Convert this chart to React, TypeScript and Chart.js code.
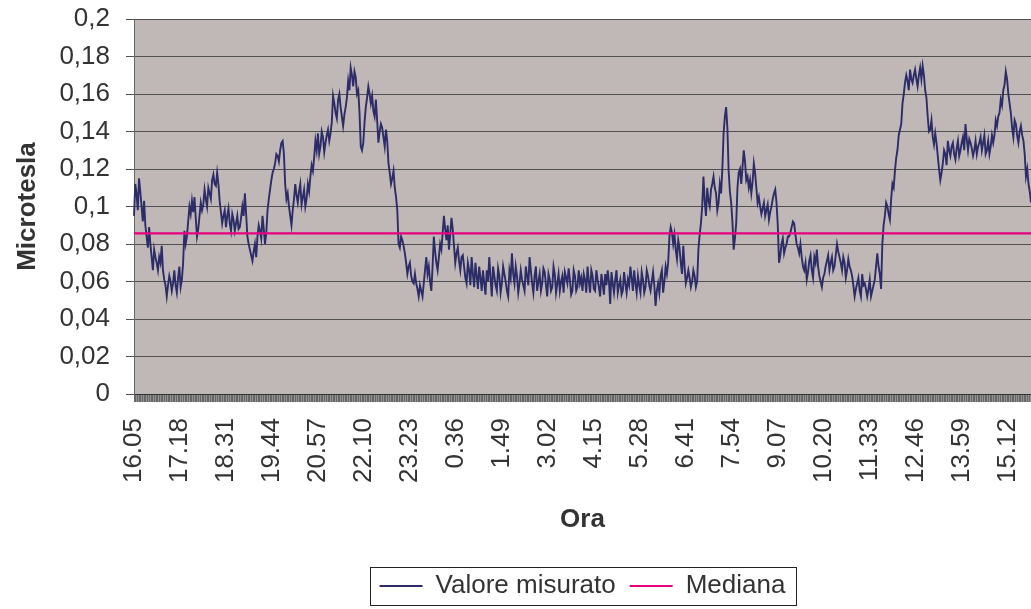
import React, { useEffect, useRef } from 'react';
import { Chart, registerables } from 'chart.js';

Chart.register(...registerables);

const FONT = "'Liberation Sans', Arial, sans-serif";

// Time axis: one category per minute starting at 16.05
const START_HOUR = 16;
const START_MINUTE = 5;
const MINUTES = 1425;
const SAMPLE_STEP = 4; // main readings every 4 minutes, extra readings 2 minutes after each

const TICK_LABELS = [
  '16.05', '17.18', '18.31', '19.44', '20.57', '22.10', '23.23', '0.36', '1.49', '3.02',
  '4.15', '5.28', '6.41', '7.54', '9.07', '10.20', '11.33', '12.46', '13.59', '15.12',
];

const MEDIAN = 0.0857;

// Measured values (Microtesla) at minute 4k
const VALUES_EVENING = [
  0.095, 0.107, 0.115, 0.100, 0.103, 0.084, 0.089, 0.073, 0.077, 0.070,
  0.073, 0.079, 0.061, 0.052, 0.063, 0.055, 0.066, 0.054, 0.068, 0.061,
  0.087, 0.084, 0.100, 0.103, 0.105, 0.084, 0.095, 0.098, 0.109, 0.100,
  0.107, 0.114, 0.112, 0.118, 0.103, 0.091, 0.098, 0.095, 0.091, 0.096,
  0.087, 0.095, 0.089, 0.100, 0.107, 0.084, 0.077, 0.071, 0.080, 0.084,
  0.087, 0.095, 0.080, 0.098, 0.109, 0.118, 0.123, 0.127, 0.130,
];
const VALUES_NIGHT_PEAK = [
  0.135, 0.112, 0.107, 0.095, 0.098, 0.112, 0.102, 0.112, 0.105, 0.100,
  0.112, 0.116, 0.119, 0.135, 0.139, 0.132, 0.137, 0.134, 0.141, 0.139,
  0.159, 0.150, 0.157, 0.153, 0.143, 0.153, 0.167, 0.174, 0.164, 0.169,
  0.162, 0.132, 0.134, 0.153, 0.164, 0.155, 0.151, 0.157, 0.134, 0.144,
  0.137, 0.141, 0.123, 0.112, 0.119, 0.105, 0.080, 0.084, 0.079, 0.070,
  0.068, 0.063, 0.059, 0.059, 0.052, 0.055, 0.059, 0.073, 0.068,
];
const VALUES_DEEP_NIGHT = [
  0.055, 0.084, 0.070, 0.073, 0.077, 0.095, 0.082, 0.077, 0.094, 0.079,
  0.075, 0.071, 0.073, 0.068, 0.059, 0.066, 0.073, 0.057, 0.063, 0.068,
  0.055, 0.059, 0.066, 0.073, 0.052, 0.063, 0.055, 0.063, 0.059, 0.064,
  0.055, 0.066, 0.075, 0.059, 0.063, 0.059, 0.061, 0.055, 0.063, 0.073,
  0.059, 0.063, 0.055, 0.064, 0.059, 0.065, 0.052, 0.061, 0.057, 0.064,
  0.059, 0.055, 0.063, 0.065, 0.059, 0.061, 0.055, 0.063, 0.057, 0.059,
];
const VALUES_EARLY_MORNING = [
  0.055, 0.061, 0.068, 0.054, 0.063, 0.055, 0.061, 0.052, 0.059, 0.064,
  0.066, 0.048, 0.059, 0.061, 0.054, 0.061, 0.055, 0.059, 0.061, 0.068,
  0.055, 0.059, 0.063, 0.054, 0.061, 0.057, 0.063, 0.055, 0.065, 0.047,
  0.059, 0.063, 0.054, 0.068, 0.070, 0.089, 0.080, 0.077, 0.082, 0.070,
  0.079, 0.059, 0.066, 0.057, 0.066, 0.057, 0.077, 0.091, 0.116, 0.095,
  0.103, 0.109, 0.116, 0.107, 0.102, 0.107, 0.139, 0.153, 0.119, 0.102,
];
const VALUES_MORNING = [
  0.077, 0.091, 0.118, 0.112, 0.130, 0.114, 0.110, 0.107, 0.123, 0.110,
  0.105, 0.096, 0.102, 0.098, 0.093, 0.100, 0.107, 0.102, 0.070, 0.080,
  0.075, 0.080, 0.084, 0.089, 0.091, 0.080, 0.075, 0.073, 0.066, 0.061,
  0.071, 0.066, 0.073, 0.077, 0.063, 0.057, 0.064, 0.071, 0.066, 0.073,
  0.068, 0.080, 0.073, 0.066, 0.070, 0.066, 0.068, 0.063, 0.052, 0.059,
  0.055, 0.064, 0.059, 0.052, 0.061, 0.055, 0.061, 0.075, 0.064,
];
const VALUES_AFTERNOON = [
  0.080, 0.095, 0.100, 0.093, 0.112, 0.119, 0.130, 0.141, 0.155, 0.166,
  0.167, 0.173, 0.166, 0.173, 0.164, 0.174, 0.175, 0.162, 0.148, 0.141,
  0.137, 0.139, 0.127, 0.114, 0.123, 0.128, 0.135, 0.127, 0.134, 0.125,
  0.135, 0.130, 0.137, 0.144, 0.130, 0.134, 0.127, 0.135, 0.132, 0.137,
  0.134, 0.128, 0.135, 0.132, 0.134, 0.146, 0.148, 0.157, 0.162, 0.172,
  0.160, 0.150, 0.137, 0.144, 0.134, 0.143, 0.135, 0.116, 0.112, 0.102,
];

// Measured values at minute 4k + 2
const MID_EVENING = [
  0.112, 0.098, 0.108, 0.092, 0.090, 0.078, 0.080, 0.066, 0.073, 0.066,
  0.070, 0.066, 0.058, 0.058, 0.060, 0.059, 0.058, 0.062, 0.057, 0.070,
  0.080, 0.092, 0.096, 0.097, 0.094, 0.088, 0.102, 0.101, 0.104, 0.110,
  0.104, 0.117, 0.111, 0.112, 0.097, 0.095, 0.089, 0.099, 0.087, 0.093,
  0.091, 0.088, 0.094, 0.095, 0.096, 0.080, 0.074, 0.076, 0.073, 0.090,
  0.083, 0.088, 0.086, 0.104, 0.114, 0.120, 0.128, 0.124, 0.134,
];
const MID_NIGHT_PEAK = [
  0.128, 0.104, 0.100, 0.090, 0.104, 0.106, 0.108, 0.101, 0.109, 0.104,
  0.108, 0.122, 0.126, 0.130, 0.128, 0.140, 0.129, 0.138, 0.135, 0.145,
  0.155, 0.147, 0.160, 0.148, 0.149, 0.158, 0.162, 0.170, 0.172, 0.160,
  0.150, 0.130, 0.145, 0.158, 0.160, 0.159, 0.148, 0.146, 0.140, 0.142,
  0.132, 0.135, 0.118, 0.115, 0.110, 0.098, 0.078, 0.082, 0.075, 0.064,
  0.070, 0.060, 0.064, 0.056, 0.058, 0.052, 0.066, 0.064, 0.060,
];
const MID_DEEP_NIGHT = [
  0.068, 0.076, 0.066, 0.080, 0.086, 0.088, 0.090, 0.085, 0.088, 0.070,
  0.078, 0.066, 0.074, 0.062, 0.070, 0.058, 0.064, 0.070, 0.056, 0.062,
  0.066, 0.053, 0.060, 0.062, 0.068, 0.058, 0.067, 0.054, 0.068, 0.060,
  0.052, 0.062, 0.064, 0.068, 0.054, 0.066, 0.058, 0.068, 0.058, 0.066,
  0.054, 0.068, 0.060, 0.055, 0.067, 0.058, 0.064, 0.055, 0.068, 0.054,
  0.064, 0.060, 0.054, 0.062, 0.067, 0.053, 0.066, 0.055, 0.066, 0.062,
];
const MID_EARLY_MORNING = [
  0.064, 0.054, 0.060, 0.066, 0.056, 0.066, 0.057, 0.064, 0.053, 0.058,
  0.060, 0.065, 0.054, 0.066, 0.058, 0.053, 0.065, 0.054, 0.058, 0.062,
  0.066, 0.054, 0.058, 0.065, 0.054, 0.066, 0.058, 0.060, 0.058, 0.055,
  0.054, 0.066, 0.060, 0.064, 0.084, 0.086, 0.085, 0.072, 0.078, 0.064,
  0.068, 0.062, 0.062, 0.060, 0.063, 0.060, 0.085, 0.100, 0.103, 0.110,
  0.100, 0.112, 0.110, 0.098, 0.112, 0.120, 0.148, 0.142, 0.108, 0.092,
];
const MID_MORNING = [
  0.083, 0.110, 0.120, 0.121, 0.124, 0.116, 0.114, 0.113, 0.118, 0.102,
  0.100, 0.099, 0.095, 0.101, 0.097, 0.104, 0.109, 0.090, 0.074, 0.083,
  0.078, 0.084, 0.086, 0.092, 0.085, 0.078, 0.080, 0.068, 0.070, 0.065,
  0.074, 0.062, 0.070, 0.068, 0.060, 0.062, 0.068, 0.074, 0.070, 0.066,
  0.074, 0.076, 0.070, 0.073, 0.062, 0.072, 0.066, 0.058, 0.056, 0.062,
  0.052, 0.058, 0.056, 0.056, 0.052, 0.058, 0.068, 0.068, 0.056,
];
const MID_AFTERNOON = [
  0.090, 0.102, 0.096, 0.104, 0.110, 0.126, 0.138, 0.144, 0.160, 0.170,
  0.162, 0.168, 0.170, 0.168, 0.170, 0.168, 0.170, 0.158, 0.140, 0.146,
  0.133, 0.134, 0.120, 0.118, 0.130, 0.122, 0.130, 0.132, 0.128, 0.131,
  0.127, 0.134, 0.130, 0.136, 0.136, 0.131, 0.130, 0.128, 0.134, 0.130,
  0.138, 0.130, 0.128, 0.138, 0.138, 0.143, 0.150, 0.154, 0.165, 0.168,
  0.155, 0.142, 0.146, 0.138, 0.140, 0.138, 0.128, 0.120, 0.108,
];

const MEASURED = [
  ...VALUES_EVENING,
  ...VALUES_NIGHT_PEAK,
  ...VALUES_DEEP_NIGHT,
  ...VALUES_EARLY_MORNING,
  ...VALUES_MORNING,
  ...VALUES_AFTERNOON,
];
const MEASURED_MID = [
  ...MID_EVENING,
  ...MID_NIGHT_PEAK,
  ...MID_DEEP_NIGHT,
  ...MID_EARLY_MORNING,
  ...MID_MORNING,
  ...MID_AFTERNOON,
];

function minuteLabel(i: number): string {
  const t = START_HOUR * 60 + START_MINUTE + i;
  const h = Math.floor(t / 60) % 24;
  const m = t % 60;
  return `${h}.${String(m).padStart(2, '0')}`;
}

const CATEGORIES = Array.from({ length: MINUTES }, (_, i) => minuteLabel(i));
const TICK_SET = new Set(TICK_LABELS);
const MEASURED_SERIES = CATEGORIES.map((_, i) => {
  const r = i % SAMPLE_STEP;
  const k = Math.floor(i / SAMPLE_STEP);
  if (r === 0 && MEASURED[k] !== undefined) return MEASURED[k];
  if (r === 2 && MEASURED_MID[k] !== undefined) return MEASURED_MID[k];
  return null;
});
const MEDIAN_SERIES = CATEGORIES.map(() => MEDIAN);

const plotBackground = {
  id: 'plotBackground',
  beforeDraw(chart: any) {
    const { ctx, chartArea: a } = chart;
    ctx.save();
    ctx.fillStyle = '#c0b8b6';
    ctx.fillRect(a.left, a.top, a.right - a.left, a.bottom - a.top);
    ctx.restore();
  },
};

const legendFrame = {
  id: 'legendFrame',
  afterDraw(chart: any) {
    const lg = chart.legend;
    const hb = lg && lg.legendHitBoxes;
    if (!hb || !hb.length) return;
    const first = hb[0];
    const last = hb[hb.length - 1];
    const x0 = Math.round(first.left - 10) + 0.5;
    const x1 = Math.round(last.left + last.width + 11) + 0.5;
    const y0 = Math.round(first.top - 6) + 0.5;
    const y1 = Math.round(first.top + first.height + 6) + 0.5;
    const ctx = chart.ctx;
    ctx.save();
    ctx.strokeStyle = '#222';
    ctx.lineWidth = 1;
    ctx.strokeRect(x0, y0, x1 - x0, y1 - y0);
    ctx.restore();
  },
};

export default function App() {
  const canvasRef = useRef<HTMLCanvasElement | null>(null);

  useEffect(() => {
    if (!canvasRef.current) return;
    const chart = new Chart(canvasRef.current, {
      type: 'line',
      data: {
        labels: CATEGORIES,
        datasets: [
          {
            label: 'Valore misurato',
            data: MEASURED_SERIES,
            borderColor: '#2c2c68',
            backgroundColor: '#2c2c68',
            borderWidth: 1.9,
            pointRadius: 0,
            tension: 0,
            spanGaps: true,
            order: 1,
          },
          {
            label: 'Mediana',
            data: MEDIAN_SERIES,
            borderColor: '#e6007e',
            backgroundColor: '#e6007e',
            borderWidth: 2.2,
            pointRadius: 0,
            tension: 0,
            order: 0,
          },
        ],
      },
      options: {
        animation: false,
        responsive: false,
        devicePixelRatio: 1,
        layout: { padding: { left: 0, right: 0, top: 19, bottom: 0 } },
        plugins: {
          tooltip: { enabled: false },
          legend: {
            position: 'bottom',
            fullSize: false,
            labels: {
              usePointStyle: true,
              pointStyle: 'line',
              pointStyleWidth: 43,
              padding: 14,
              color: '#333',
              font: { family: FONT, size: 26 },
              sort: (a: any, b: any) => a.datasetIndex - b.datasetIndex,
            },
          },
        },
        scales: {
          x: {
            type: 'category',
            grid: {
              display: true,
              drawOnChartArea: false,
              drawTicks: true,
              tickLength: 8,
              color: '#4a4a4a',
              lineWidth: 0.6,
            },
            border: { display: true, color: '#333', width: 1 },
            ticks: {
              autoSkip: false,
              minRotation: 90,
              maxRotation: 90,
              padding: 16,
              color: '#333',
              font: { family: FONT, size: 26 },
              callback: (_v: any, i: number) => (TICK_SET.has(CATEGORIES[i]) ? CATEGORIES[i] : ''),
            },
            title: {
              display: true,
              text: 'Ora',
              color: '#333',
              font: { family: FONT, size: 26, weight: 'bold' },
              padding: { top: 0, bottom: 24 },
            },
            afterFit: (s: any) => {
              s.height = 165;
              s.paddingLeft = 0;
              s.paddingRight = 0;
              s.paddingTop = 0;
              s.paddingBottom = 0;
            },
          },
          y: {
            min: 0,
            max: 0.2,
            grid: {
              color: '#505050',
              lineWidth: 1,
              tickLength: 8,
            },
            border: { display: true, color: '#666', width: 1 },
            ticks: {
              stepSize: 0.02,
              padding: 16,
              color: '#333',
              font: { family: FONT, size: 26 },
              callback: (v: any) => String(+Number(v).toFixed(2)).replace('.', ','),
            },
            title: {
              display: true,
              text: 'Microtesla',
              color: '#333',
              font: { family: FONT, size: 26, weight: 'bold' },
              padding: { top: 12, bottom: 0 },
            },
            afterFit: (s: any) => {
              s.width = 134;
              s.paddingTop = 0;
              s.paddingBottom = 0;
            },
          },
        },
      },
      plugins: [plotBackground, legendFrame],
    } as any);
    return () => chart.destroy();
  }, []);

  return (
    <div style={{ position: 'absolute', left: 0, top: 0, width: 1031, height: 609, overflow: 'hidden' }}>
      <canvas ref={canvasRef} width={1031} height={609} style={{ display: 'block' }} />
    </div>
  );
}
